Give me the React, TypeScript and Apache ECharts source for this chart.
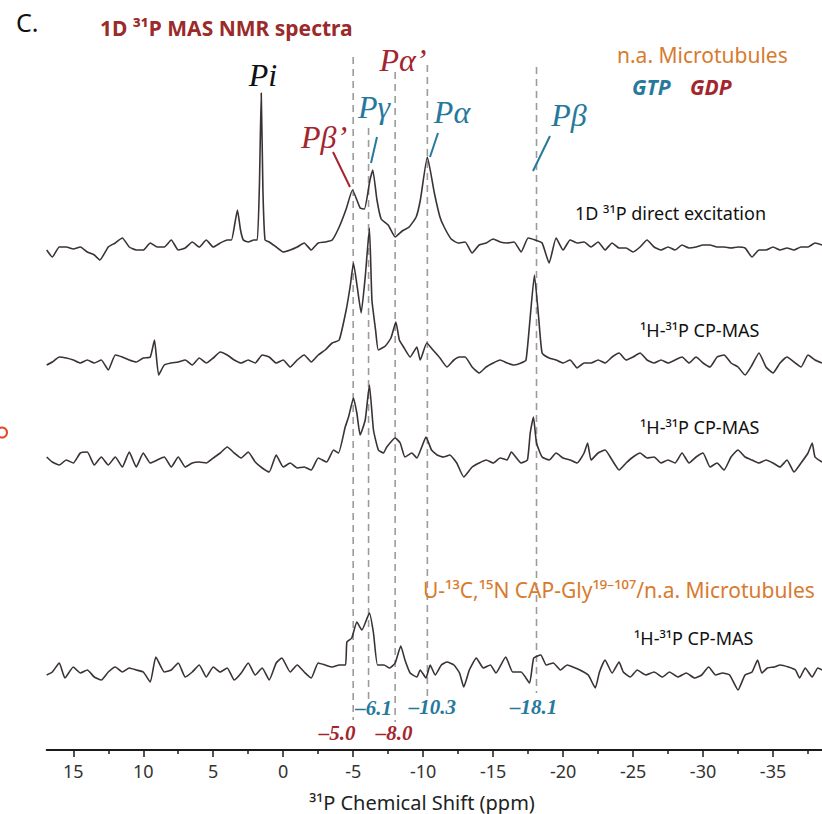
import React, { useEffect, useRef } from "react";
import * as echarts from "echarts";

// [chemical shift (ppm), intensity (a.u.)]
const directExcitation: [number, number][] = [
  [16.9, -5], [16.5, -12], [16, -2], [15.5, -2], [15, -4], [14.5, -2], [14, -7], [13.5, -10], [13.1, -15], [12.5, -2],
  [12, 2], [11.5, 7], [11, -2], [10.5, -5], [10, -5], [9.5, 2], [9, -2], [8.5, -2], [8, 5], [7.5, -5],
  [7, -3], [6.5, 3], [6, -2], [5.5, 5], [5, -2], [4.5, 2], [4, 5], [3.7, 5], [3.45, 22], [3.27, 35],
  [3.05, 15], [2.85, 5], [2.5, 3], [2.1, 5], [1.85, 5], [1.7, 60], [1.57, 152], [1.45, 55], [1.3, 5], [1, 3],
  [0.5, -2], [0, -7], [-0.5, -5], [-1, -2], [-1.5, 2], [-2, -5], [-2.5, 2], [-3, 3], [-3.5, 5], [-4, 18],
  [-4.5, 36], [-4.95, 55], [-5.5, 37], [-5.8, 36], [-6.2, 65], [-6.4, 75], [-6.7, 45], [-7, 26], [-7.5, 20], [-8, 8],
  [-8.5, 14], [-9, 18], [-9.5, 28], [-9.8, 45], [-10.3, 88], [-10.8, 52], [-11.2, 28], [-11.5, 18], [-12, 6], [-12.5, 2],
  [-13, 3], [-13.5, -8], [-14, 0], [-14.5, 2], [-15, 6], [-15.5, 3], [-16, 2], [-16.5, 3], [-17, -7], [-17.5, 7],
  [-18, 5], [-18.5, 2], [-19, -18], [-19.5, 7], [-20, -5], [-20.5, 5], [-21, 2], [-21.5, 3], [-22, -2], [-22.5, 3],
  [-23, -5], [-23.5, 2], [-24, -3], [-24.5, -3], [-25, -7], [-25.5, -2], [-26, 5], [-26.5, -2], [-27, -5], [-27.5, -2],
  [-28, -5], [-28.5, 0], [-29, -3], [-29.5, -2], [-30, 0], [-30.5, 0], [-31, -2], [-31.5, -2], [-32, -3], [-32.5, -2],
  [-33, -3], [-33.5, -12], [-34, -5], [-34.5, -5], [-35, -2], [-35.5, -5], [-36, -3], [-36.5, -5], [-37, -2], [-37.5, -2],
  [-38, 2], [-38.5, 0],
];

const cpMasA: [number, number][] = [
  [16.9, -5], [16.5, -2], [16, 3], [15.5, 2], [15, 0], [14.5, -3], [14, 0], [13.5, -3], [13, 0], [12.5, -10],
  [12, 5], [11.5, 3], [11, 0], [10.5, -2], [10, 2], [9.5, 3], [9.2, 20], [8.9, -15], [8.5, -5], [8, -3],
  [7.5, -2], [7, 0], [6.5, -5], [6, 2], [5.5, -3], [5, 2], [4.5, 8], [4, 5], [3.5, 0], [3, -3],
  [2.5, 0], [2, -3], [1.5, 5], [1, 3], [0.5, -3], [0, 0], [-0.5, -7], [-1, 0], [-1.5, 5], [-2, -2],
  [-2.5, 5], [-3, 10], [-3.5, 17], [-4, 20], [-4.5, 50], [-4.8, 75], [-5.02, 97], [-5.3, 72], [-5.57, 47], [-5.86, 83],
  [-6.16, 132], [-6.34, 60], [-6.6, 30], [-6.8, 10], [-7.3, 14], [-7.7, 22], [-8.05, 38], [-8.3, 20], [-8.6, 13], [-9.07, 3],
  [-9.55, 13], [-9.79, 0], [-10.26, 17], [-10.7, 10], [-11.2, 2], [-11.7, -7], [-12.2, 0], [-12.6, 3], [-13, 3], [-13.5, -7],
  [-14, -13], [-14.5, -7], [-15, -3], [-15.5, 0], [-16, -3], [-16.5, -5], [-17, -3], [-17.35, 0], [-17.65, 43], [-17.95, 85],
  [-18.25, 43], [-18.5, 7], [-19, 2], [-19.5, 0], [-20, -3], [-20.5, 0], [-21, -8], [-21.5, -3], [-22, -3], [-22.5, 0],
  [-23, -3], [-23.5, 3], [-24, 7], [-24.5, 0], [-25, 3], [-25.5, 7], [-26, 0], [-26.5, -3], [-27, 0], [-27.5, -3],
  [-28, 0], [-28.5, 3], [-29, -3], [-29.5, 3], [-30, -3], [-30.5, -7], [-31, 3], [-31.5, 5], [-32, -3], [-32.5, -7],
  [-33, -15], [-33.5, -5], [-34, 7], [-34.5, -7], [-35, -13], [-35.5, -3], [-36, 3], [-36.5, -2], [-37, -7], [-37.5, 5],
  [-38, 0], [-38.5, -3],
];

const cpMasB: [number, number][] = [
  [16.9, 1], [16.5, -4], [16, -7], [15.5, -2], [15, -5], [14.5, 5], [14, 6], [13.5, -7], [13, 1], [12.5, -7],
  [12, 1], [11.5, -9], [11, 6], [10.5, -9], [10, 5], [9.5, -5], [9, -2], [8.5, 1], [8, -9], [7.5, 1],
  [7, -9], [6.5, -5], [6, -4], [5.5, -5], [5, 0], [4.5, 5], [4, 11], [3.5, 5], [3, 0], [2.5, 6],
  [2, -4], [1.5, -10], [1, -14], [0.5, 3], [0, -9], [-0.5, -5], [-1, -10], [-1.5, -9], [-2, -12], [-2.5, 0],
  [-3.1, -4], [-3.6, 8], [-3.95, 5], [-4.43, 31], [-4.67, 41], [-5.02, 60], [-5.26, 45], [-5.5, 23], [-5.86, 38], [-6.16, 73],
  [-6.45, 28], [-6.8, 8], [-7.16, 5], [-7.4, 11], [-8.0, 20], [-8.36, 15], [-8.7, 1], [-9.19, 5], [-9.55, 0], [-9.9, 11],
  [-10.2, 21], [-10.6, 8], [-11.0, 3], [-11.45, 1], [-11.9, 3], [-12.4, -5], [-12.9, -19], [-13.5, -9], [-14, -5], [-14.5, -2],
  [-15, -5], [-15.5, 0], [-16, -2], [-16.3, 6], [-17, -5], [-17.45, -2], [-17.65, 25], [-17.88, 41], [-18.1, 15], [-18.5, 1],
  [-19, -2], [-19.5, 5], [-20, 0], [-20.5, -2], [-21, -5], [-21.5, 5], [-21.75, 15], [-22, -2], [-22.5, 5], [-23, 8],
  [-23.5, -2], [-24, -12], [-24.5, -5], [-25, 1], [-25.5, 5], [-26, 0], [-26.5, 1], [-27, -5], [-27.5, -2], [-28, -5],
  [-28.5, 5], [-29, -5], [-29.5, 1], [-30, 5], [-30.5, -9], [-31, -5], [-31.5, -12], [-32, 1], [-32.5, 8], [-33, 1],
  [-33.5, -2], [-34, -5], [-34.5, -2], [-35, -5], [-35.5, -9], [-36, -2], [-36.5, -14], [-37, -5], [-37.5, 5], [-37.8, 15],
  [-38, 1], [-38.5, -4],
];

const capGlyCpMas: [number, number][] = [
  [16.9, -3], [16.5, 0], [16, 9], [15.6, -6], [15, 5], [14.5, -1], [14, 2], [13.5, -5], [13, -8], [12.5, 0],
  [12, 5], [11.5, 0], [11, 4], [10.5, 2], [10, 0], [9.5, -10], [9.1, 15], [8.5, 0], [8, 2], [7.5, 9],
  [7, -5], [6.5, 0], [6, 7], [5.5, -5], [5, 5], [4.5, 0], [4, 4], [3.5, -8], [3, -1], [2.5, 9],
  [2, -3], [1.5, 4], [1, -8], [0.5, 9], [0.1, 14], [-0.5, 0], [-1, 7], [-1.5, 0], [-2, -6], [-2.5, 9],
  [-3, 7], [-3.5, 5], [-4, 7], [-4.45, 7], [-4.55, 30], [-4.9, 34], [-5.26, 50], [-5.62, 42], [-6.16, 59], [-6.45, 39],
  [-6.74, 7], [-7.2, 7], [-7.6, 4], [-8.0, 9], [-8.4, 26], [-8.7, 12], [-9.07, -1], [-9.55, -5], [-9.79, 2], [-10.2, -6],
  [-10.5, 7], [-10.86, -3], [-11.3, 7], [-11.7, 10], [-12.2, 7], [-12.6, -1], [-12.9, -15], [-13.3, 2], [-13.8, 14], [-14.3, 4],
  [-14.8, 7], [-15.2, -1], [-15.9, 15], [-16.4, 0], [-17, 0], [-17.6, -11], [-17.9, 14], [-18.4, 17], [-18.8, 7], [-19.3, 9],
  [-19.8, 2], [-20.3, 7], [-20.7, 5], [-21.2, 2], [-21.8, -3], [-22.3, -16], [-22.6, 0], [-23, 12], [-23.5, -1], [-24, 10],
  [-24.3, 0], [-24.8, -5], [-25.3, 2], [-25.9, -3], [-26.5, 0], [-27.1, -5], [-27.6, 0], [-28.2, -5], [-28.8, -1], [-29.4, -6],
  [-29.9, -3], [-30.4, 5], [-30.9, -3], [-31.4, -1], [-31.9, -3], [-32.5, -18], [-33, -3], [-33.5, 0], [-33.9, 12], [-34.2, -1],
  [-34.6, 4], [-35.1, 5], [-35.5, 7], [-36.1, 5], [-36.6, 2], [-36.9, -6], [-37.3, 4], [-37.8, -5], [-38.2, 4], [-38.5, 2],
];

const majorTicks = [15, 10, 5, 0, -5, -10, -15, -20, -25, -30, -35];
const minorTicks = [12.5, 7.5, 2.5, -2.5, -7.5, -12.5, -17.5, -22.5, -27.5, -32.5, -37.5];
const peakShifts = [-5.0, -6.1, -8.0, -10.3, -18.1];
const peakShiftLabels = ["–5.0", "–6.1", "–8.0", "–10.3", "–18.1"];
const peakNucleotide = ["GDP", "GTP", "GDP", "GTP", "GTP"];

const BLUE = "#27799c";
const RED = "#a3262f";
const ORANGE = "#d77b2e";
const TRACE = "#3b3333";
const SANS = '"Noto Sans", "Open Sans", sans-serif';
const SERIF = '"Liberation Serif", "DejaVu Serif", serif';

export default function App() {
  const ref = useRef<HTMLDivElement>(null);
  useEffect(() => {
    if (!ref.current) return;
    const chart = echarts.init(ref.current, undefined, { renderer: "svg" });

    const traces = [directExcitation, cpMasA, cpMasB, capGlyCpMas];
    const baselines = [505, 390, 292, 78];
    const dashTop = [693, 622, 678, 685, 683];
    const dashBottom = [30, 50, 28, 53, 57];
    const labelDx = [-16, 5, -1, 5, -3];
    const labelY = [733, 708, 733, 707, 707];

    const series: any[] = traces.map((t, i) => ({
      type: "line",
      data: t.map(([p, v]) => [p, baselines[i] + v]),
      showSymbol: false,
      smooth: 0.15,
      lineStyle: { color: TRACE, width: 1.6 },
      z: 3,
      silent: true,
    }));
    peakShifts.forEach((s, i) => {
      series.push({
        type: "line",
        data: [[s, dashTop[i]], [s, dashBottom[i]]],
        showSymbol: false,
        lineStyle: { color: "#9c9c9c", width: 1.6, type: [7, 5] },
        z: 2,
        silent: true,
      });
    });

    const option: any = {
      animation: false,
      backgroundColor: "#ffffff",
      grid: { left: 46.7, right: 0, top: 0, bottom: 64 },
      xAxis: [
        {
          type: "value",
          min: -38.5,
          max: 16.9,
          inverse: true,
          position: "bottom",
          axisLine: { show: true, onZero: false, lineStyle: { color: "#1a1a1a", width: 2 } },
          axisTick: { show: true, customValues: majorTicks, length: 7, lineStyle: { color: "#1a1a1a", width: 1.5 } },
          axisLabel: {
            customValues: majorTicks,
            formatter: (v: number) => String(v),
            color: "#333",
            fontSize: 18,
            fontFamily: SANS,
            margin: 12,
          },
          splitLine: { show: false },
        },
        {
          type: "value",
          min: -38.5,
          max: 16.9,
          inverse: true,
          position: "bottom",
          axisLine: { show: false, onZero: false },
          axisTick: { show: true, customValues: minorTicks, length: 4, lineStyle: { color: "#1a1a1a", width: 1.5 } },
          axisLabel: { show: false },
          splitLine: { show: false },
        },
      ],
      yAxis: { type: "value", min: 0, max: 750, show: false },
      series,
    };
    chart.setOption(option);

    const txt = (text: string, x: number, y: number, font: string, fill: string, align = "left") => ({
      type: "text",
      x,
      y,
      z: 10,
      style: { text, font, fill, textAlign: align, textVerticalAlign: "middle" },
    });
    const ln = (x1: number, y1: number, x2: number, y2: number, stroke: string) => ({
      type: "line",
      z: 10,
      shape: { x1, y1, x2, y2 },
      style: { stroke, lineWidth: 2 },
    });

    const graphics: any[] = [
      txt("C.", 16, 22, `25px ${SANS}`, "#111"),
      txt("1D ³¹P MAS NMR spectra", 100, 28, `bold 21px ${SANS}`, "#9b2a2a"),
      txt("n.a. Microtubules", 617, 55, `21px ${SANS}`, ORANGE),
      txt("GTP", 632, 87, `bold italic 21px ${SANS}`, BLUE),
      txt("GDP", 690, 87, `bold italic 21px ${SANS}`, RED),
      txt("1D ³¹P direct excitation", 575, 213, `18px ${SANS}`, "#111"),
      txt("¹H-³¹P CP-MAS", 640, 330, `18px ${SANS}`, "#111"),
      txt("¹H-³¹P CP-MAS", 640, 427, `18px ${SANS}`, "#111"),
      txt("U-¹³C,¹⁵N CAP-Gly¹⁹⁻¹⁰⁷/n.a. Microtubules", 423, 590, `21px ${SANS}`, ORANGE),
      txt("¹H-³¹P CP-MAS", 634, 638, `18px ${SANS}`, "#111"),
      txt("³¹P Chemical Shift (ppm)", 422, 802, `20px ${SANS}`, "#222", "center"),
      txt("Pi", 263, 75, `italic 32px ${SERIF}`, "#111", "center"),
      txt("Pβ’", 324, 137, `italic 32px ${SERIF}`, RED, "center"),
      txt("Pγ", 374, 107, `italic 32px ${SERIF}`, BLUE, "center"),
      txt("Pα’", 403, 60, `italic 32px ${SERIF}`, RED, "center"),
      txt("Pα", 452, 112, `italic 32px ${SERIF}`, BLUE, "center"),
      txt("Pβ", 569, 115, `italic 32px ${SERIF}`, BLUE, "center"),
      ln(333, 152, 350, 187, RED),
      ln(377, 137, 371, 163, BLUE),
      ln(438, 133, 430, 157, BLUE),
      ln(550, 136, 533, 171, BLUE),
      {
        type: "circle",
        z: 10,
        shape: { cx: 2, cy: 432.5, r: 5 },
        style: { fill: "none", stroke: "#e8452c", lineWidth: 2 },
      },
    ];
    peakShifts.forEach((s, i) => {
      const px = chart.convertToPixel({ xAxisIndex: 0 }, s) as number;
      graphics.push(
        txt(
          peakShiftLabels[i],
          px + labelDx[i],
          labelY[i],
          `bold italic 21px ${SERIF}`,
          peakNucleotide[i] === "GTP" ? BLUE : RED,
          "center"
        )
      );
    });
    chart.setOption({ graphic: graphics });

    return () => chart.dispose();
  }, []);

  return (
    <div
      ref={ref}
      style={{ position: "absolute", left: 0, top: 0, width: 822, height: 814, background: "#fff" }}
    />
  );
}
